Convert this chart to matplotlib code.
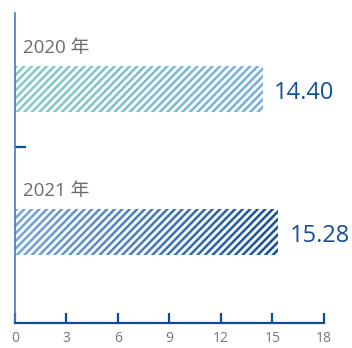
import numpy as np
import matplotlib.pyplot as plt
from matplotlib.colors import to_rgb

# data
years = ["2020 年", "2021 年"]
values = [14.40, 15.28]
value_labels = ["14.40", "15.28"]
xticks = [0, 3, 6, 9, 12, 15, 18]
grad_colors = [("#82cbc3", "#72aedc"), ("#72a6dc", "#0f4a98")]

W, H = 352, 348
fig = plt.figure(figsize=(W / 100, H / 100), dpi=100)
ax_l, ax_r, ax_t, ax_b = 15, 324, 13, 323
ax = fig.add_axes([ax_l / W, 1 - ax_b / H, (ax_r - ax_l) / W, (ax_b - ax_t) / H])

ylim = (1.633, -0.535)
bar_h = 0.315
px_per_x = (ax_r - ax_l) / 18.0
px_per_y = (ax_b - ax_t) / (ylim[0] - ylim[1])

ss = 4  # supersampling
period, stripe = 7.5, 3.4
for i, (v, (c0, c1)) in enumerate(zip(values, grad_colors)):
    wpx = int(round(v * px_per_x)) * ss
    hpx = int(round(bar_h * px_per_y)) * ss
    xx, yy = np.meshgrid(np.arange(wpx) / ss, np.arange(hpx) / ss)
    mask = ((xx + yy) % period) < stripe
    t = xx / xx.max()
    c0, c1 = np.array(to_rgb(c0)), np.array(to_rgb(c1))
    img = np.zeros((hpx, wpx, 4))
    img[..., :3] = c0 + (c1 - c0) * t[..., None]
    img[..., 3] = mask.astype(float)
    ax.imshow(img, extent=(0, v, i + bar_h / 2, i - bar_h / 2),
              origin="upper", aspect="auto", interpolation="antialiased", zorder=2)
    ax.text(0.45, i - bar_h / 2 - 0.13, years[i], color="#6b6b6b", fontsize=13.5,
            family=["Open Sans", "Noto Sans CJK SC"], va="center", ha="left")
    ax.text(v + 0.7, i + 0.025, value_labels[i], color="#124f9c", fontsize=17,
            family="Open Sans", va="center", ha="left")

ax.set_xlim(0, 18)
ax.set_ylim(*ylim)
ax.set_xticks(xticks)
ax.set_xticklabels([str(t) for t in xticks], color="#777777", fontsize=10,
                   family="Open Sans")
ax.tick_params(axis="x", direction="in", length=7, width=1.6, color="#0d4a9a", pad=6)
ax.set_yticks([0.402])
ax.set_yticklabels([])
ax.tick_params(axis="y", direction="in", length=8, width=1.6, color="#0d4a9a")
for s in ["top", "right"]:
    ax.spines[s].set_visible(False)
ax.spines["bottom"].set_color("#0d4a9a")
ax.spines["bottom"].set_linewidth(1.6)
ax.spines["left"].set_color("#4a78b4")
ax.spines["left"].set_linewidth(1.2)

fig.savefig("out.png", dpi=100)
